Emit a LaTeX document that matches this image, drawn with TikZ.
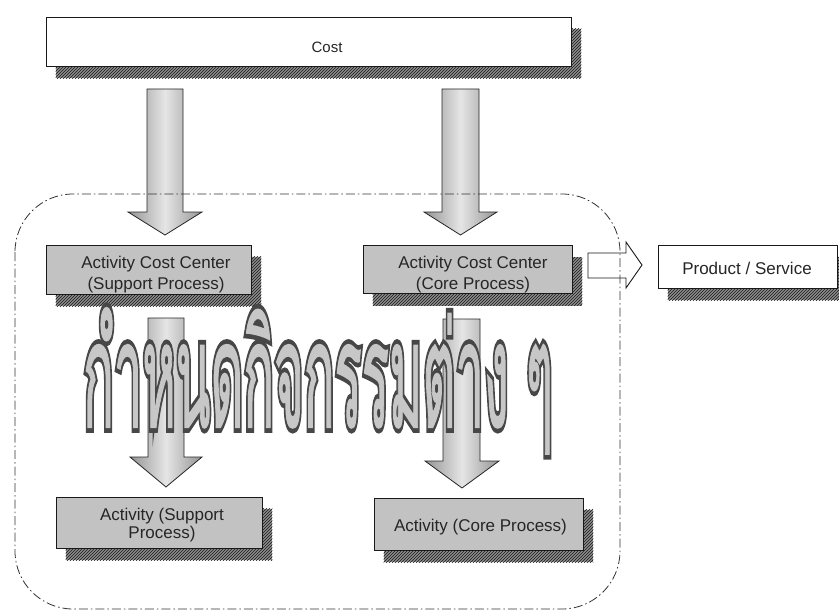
\documentclass[tikz,border=0pt]{standalone}
\usepackage{fontspec}
\usepackage{graphicx}
\setmainfont{Liberation Sans}
\newfontfamily\thaiheavy[Script=Thai,FakeBold=8]{Loma}
\newfontfamily\thailight[Script=Thai,FakeBold=1.5]{Loma}
\usetikzlibrary{patterns,backgrounds,calc}

\tikzset{
  x=1pt, y=-1pt,
  box/.style={draw=black!90, line width=0.9pt, fill=black!24, inner sep=0pt},
  plainbox/.style={box, fill=white},
  boxshadow/.style={fill=black!45, postaction={pattern=north east lines, pattern color=black!90}},
  label/.style={inner sep=0pt, text=black!85, font=\fontsize{17}{21}\selectfont, align=center},
  blockarrow/.style={draw=black!85, line width=0.8pt, left color=black!42, right color=black!42, middle color=black!10},
  outarrow/.style={draw=black!90, line width=0.9pt, fill=white},
  region/.style={draw=black!80, line width=0.8pt, rounded corners=58pt,
    dash pattern=on 9pt off 3pt on 1.5pt off 3pt},
  thaitext/.style={anchor=base west, inner sep=0pt}
}

\newcommand\thaiword[1]{\resizebox{470pt}{119pt}{#1กำหนดกิจกรรมต่าง ๆ}}

\begin{document}
\begin{tikzpicture}
  \useasboundingbox (0,0) rectangle (839,610);

  % boxes
  \node[plainbox, minimum width=525pt, minimum height=49pt] (cost) at (308.5,41.5) {};
  \node[box, minimum width=205pt, minimum height=49pt] (accs) at (148.5,269.5) {};
  \node[box, minimum width=209pt, minimum height=48pt] (accc) at (467.5,269.5) {};
  \node[box, minimum width=206pt, minimum height=51pt] (acts) at (159,522.5) {};
  \node[box, minimum width=209pt, minimum height=52pt] (actc) at (478.5,524) {};
  \node[plainbox, minimum width=179pt, minimum height=43pt] (prod) at (747.5,266.5) {};

  % white page and hatched drop shadows behind every box
  \begin{scope}[on background layer]
    \fill[white] (0,0) rectangle (839,610);
    \foreach \n in {cost,accs,accc,acts,actc,prod}
      \path[boxshadow] ([shift={(10,12)}]\n.north west) rectangle ([shift={(10,12)}]\n.south east);
  \end{scope}

  % box texts
  \node[label, font=\fontsize{15}{18}\selectfont] (costtext) at (327,47) {Cost};
  \node[label] (accstext) at (156,275) {Activity Cost Center\\(Support Process)};
  \node[label] (accctext) at (473,275) {Activity Cost Center\\(Core Process)};
  \node[label, font=\fontsize{17}{18}\selectfont] (actstext) at (162,525) {Activity (Support\\Process)};
  \node[label] (actctext) at (480.5,527) {Activity (Core Process)};
  \node[label] (prodtext) at (747,268) {Product / Service};

  % downward block arrows
  \draw[blockarrow] (147,89) -- (183,89) -- (183,212) -- (202,212) -- (165,235) -- (128,212) -- (147,212) -- cycle;
  \draw[blockarrow] (442,89) -- (479,89) -- (479,212) -- (497,212) -- (460.5,235) -- (424,212) -- (442,212) -- cycle;
  \draw[blockarrow] (148,318) -- (184,318) -- (184,457) -- (202,457) -- (166,487) -- (130,457) -- (148,457) -- cycle;
  \draw[blockarrow] (443,319) -- (480,319) -- (480,461) -- (499,461) -- (462,488) -- (425,461) -- (443,461) -- cycle;

  % outlined arrow towards the product
  \draw[outarrow] (588,253) -- (626,253) -- (626,242) -- (642,265) -- (626,288) -- (626,278) -- (588,278) -- cycle;

  % large outlined Thai heading: heavy dark glyphs, lighter thin glyphs on top
  \node[thaitext, text=black!72] (thaihalo) at (83,427) {\thaiword{\thaiheavy}};
  \node[thaitext, text=black!22] (thai) at (83,427) {\thaiword{\thailight}};

  % dash-dot boundary of the activity area
  \draw[region] (15,194) rectangle (620,609);
\end{tikzpicture}
\end{document}
